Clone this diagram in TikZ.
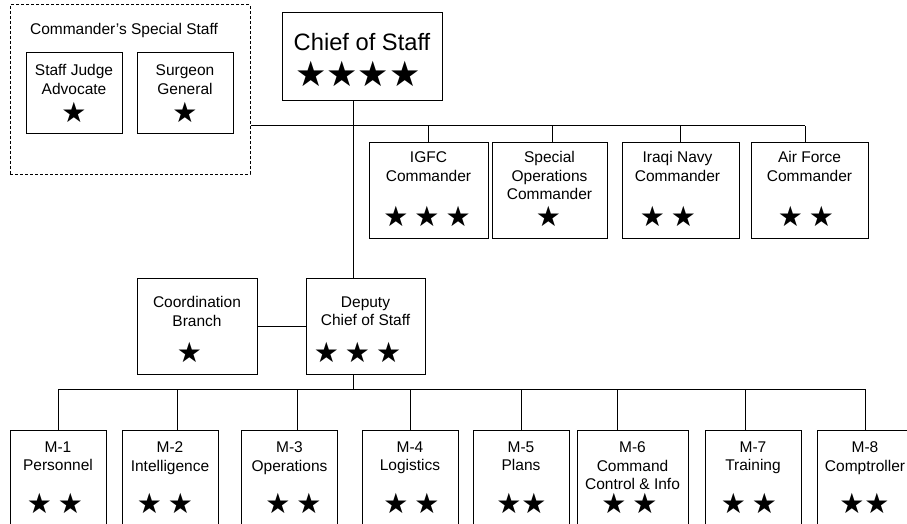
\documentclass[tikz,border=0pt]{standalone}
\usepackage{fontspec}
\setmainfont{Liberation Sans}
\newfontfamily\starfont{DejaVu Sans}
\newcommand{\sgap}{\hspace{6pt}}

\tikzset{
  box/.style={draw, line width=1pt, inner sep=0pt},
  topbox/.style={box, minimum height=96pt},
  mbox/.style={box, minimum width=96pt, minimum height=110pt},
  lbl/.style={font=\fontsize{15.5}{18.5}\selectfont, align=center, inner sep=0pt, anchor=north},
  stars/.style={font=\starfont\fontsize{28}{28}\selectfont, inner sep=0pt},
  bigstars/.style={font=\starfont\fontsize{35}{35}\selectfont, inner sep=0pt},
  wire/.style={line width=1pt},
}

\begin{document}
\begin{tikzpicture}[x=1pt, y=-1pt]
\useasboundingbox (0,0) rectangle (907,524);
\clip (0,0) rectangle (907,524);

% commander's special staff
\node[box, dash pattern=on 3pt off 2pt, minimum width=240pt, minimum height=169pt] (cmdstaff) at (130,89.5) {};
\node[lbl] (cmdstaff-t) at (124,23.5) {Commander’s Special Staff};
\node[box, minimum width=96pt, minimum height=81pt] (sja) at (74,93.5) {};
\node[lbl] (sja-t) at (74,64.5) {Staff Judge\\Advocate};
\node[stars] (sja-s) at (74,112) {★};
\node[box, minimum width=96pt, minimum height=81pt] (sg) at (185,93.5) {};
\node[lbl] (sg-t) at (185,64.5) {Surgeon\\General};
\node[stars] (sg-s) at (185,112) {★};

% chief of staff
\node[box, minimum width=160pt, minimum height=88pt] (chief) at (362,57) {};
\node[lbl, anchor=center, font=\fontsize{23.7}{26}\selectfont] (chief-t) at (362,42) {Chief of Staff};
\node[bigstars] (chief-s) at (358,74) {★★★★};

% component commanders
\node[topbox, minimum width=119pt] (igfc) at (428.5,190) {};
\node[lbl] (igfc-t) at (428.5,151.5) {IGFC\\Commander};
\node[stars] (igfc-s) at (427,216.5) {★\sgap★\sgap★};
\node[topbox, minimum width=115pt] (sopc) at (549.5,190) {};
\node[lbl] (sopc-t) at (549.5,151.5) {Special\\Operations\\Commander};
\node[stars] (sopc-s) at (548.5,216.5) {★};
\node[topbox, minimum width=117pt] (navy) at (680.5,190) {};
\node[lbl] (navy-t) at (677.5,151.5) {Iraqi Navy\\Commander};
\node[stars] (navy-s) at (668,216.5) {★\sgap★};
\node[topbox, minimum width=117pt] (af) at (809.5,190) {};
\node[lbl] (af-t) at (809.5,151.5) {Air Force\\Commander};
\node[stars] (af-s) at (806,216.5) {★\sgap★};

% deputy and coordination
\node[topbox, minimum width=120pt] (coord) at (197,326) {};
\node[lbl] (coord-t) at (197,296.5) {Coordination\\Branch};
\node[stars] (coord-s) at (189.5,352) {★};
\node[topbox, minimum width=119pt] (dep) at (365.5,326) {};
\node[lbl] (dep-t) at (365.5,296.5) {Deputy\\Chief of Staff};
\node[stars] (dep-s) at (357.5,352) {★\sgap★\sgap★};

% staff sections
\node[mbox] (m1) at (58,485) {};
\node[lbl] (m1-t) at (58,441.5) {M-1\\Personnel};
\node[stars] (m1-s) at (55,503) {★\sgap★};
\node[mbox] (m2) at (170,485) {};
\node[lbl] (m2-t) at (170,441.5) {M-2\\Intelligence};
\node[stars] (m2-s) at (165,503) {★\sgap★};
\node[mbox] (m3) at (289.5,485) {};
\node[lbl] (m3-t) at (289.5,441.5) {M-3\\Operations};
\node[stars] (m3-s) at (293.5,503) {★\sgap★};
\node[mbox] (m4) at (410,485) {};
\node[lbl] (m4-t) at (410,441.5) {M-4\\Logistics};
\node[stars] (m4-s) at (411.5,503) {★\sgap★};
\node[mbox] (m5) at (521,485) {};
\node[lbl] (m5-t) at (521,441.5) {M-5\\Plans};
\node[stars] (m5-s) at (521.5,503) {★★};
\node[mbox, minimum width=111pt] (m6) at (632.5,485) {};
\node[lbl] (m6-t) at (632.5,441.5) {M-6\\Command\\Control \& Info};
\node[stars] (m6-s) at (629.5,503) {★\sgap★};
\node[mbox] (m7) at (753,485) {};
\node[lbl] (m7-t) at (753,441.5) {M-7\\Training};
\node[stars] (m7-s) at (749,503) {★\sgap★};
\node[mbox] (m8) at (865,485) {};
\node[lbl] (m8-t) at (865,441.5) {M-8\\Comptroller};
\node[stars] (m8-s) at (864.5,503) {★★};

% lines
\coordinate (spine) at (353,0);
\coordinate (tbus) at (0,126);
\coordinate (bbus) at (0,389);
\coordinate (sopc-top) at ([xshift=2.5pt]sopc.north);
\coordinate (af-top) at ([xshift=-4.5pt]af.north);
\coordinate (m2-top) at ([xshift=7pt]m2.north);
\coordinate (m3-top) at ([xshift=7.5pt]m3.north);
\coordinate (m6-top) at ([xshift=-15.5pt]m6.north);
\coordinate (m7-top) at ([xshift=-8pt]m7.north);

\draw[wire] (chief.south -| spine) -- (dep.north -| spine);
\draw[wire] (cmdstaff.east |- tbus) -- (af-top |- tbus);
\draw[wire] (igfc.north) -- (igfc.north |- tbus);
\draw[wire] (sopc-top) -- (sopc-top |- tbus);
\draw[wire] (navy.north) -- (navy.north |- tbus);
\draw[wire] (af-top) -- (af-top |- tbus);
\draw[wire] (coord.east) -- (dep.west);
\draw[wire] (dep.south -| spine) -- (spine |- bbus);
\draw[wire] (m1.north |- bbus) -- (m8.north |- bbus);
\draw[wire] (m1.north) -- (m1.north |- bbus);
\draw[wire] (m2-top) -- (m2-top |- bbus);
\draw[wire] (m3-top) -- (m3-top |- bbus);
\draw[wire] (m4.north) -- (m4.north |- bbus);
\draw[wire] (m5.north) -- (m5.north |- bbus);
\draw[wire] (m6-top) -- (m6-top |- bbus);
\draw[wire] (m7-top) -- (m7-top |- bbus);
\draw[wire] (m8.north) -- (m8.north |- bbus);
\end{tikzpicture}
\end{document}
